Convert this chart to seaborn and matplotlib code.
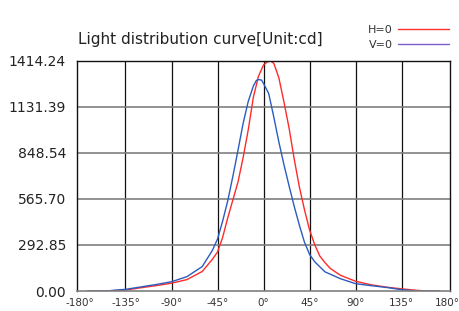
"""
Light distribution curve (H=0 / V=0 planes), intensity in cd.
"""

import pandas as pd
import matplotlib
matplotlib.use("Agg")
import matplotlib.pyplot as plt
import seaborn as sns

# ---------------------------------------------------------------------------
# DATA
# ---------------------------------------------------------------------------
ANGLES_H = [-172, -160, -150, -135, -120, -105, -90, -75, -60, -50, -45, -40,
            -35, -30, -25, -20, -15, -10, -5, 0, 4, 7, 10, 15, 20, 25, 30,
            35, 40, 45, 50, 55, 60, 65, 75, 90, 105, 120, 135, 150, 160, 172]
CD_H = [0, 0, 2, 6, 20, 33, 48, 70, 120, 195, 240, 330,
        450, 560, 670, 820, 990, 1190, 1320, 1390, 1410, 1414, 1400, 1310, 1160, 1000, 810,
        640, 500, 375, 285, 215, 175, 140, 97, 60, 38, 24, 13, 4, 0, 0]

ANGLES_V = [-172, -160, -150, -140, -135, -120, -105, -90, -75, -60, -50, -45,
            -40, -35, -30, -25, -20, -15, -10, -7, -5, -2, 0, 5, 10, 15, 20,
            25, 30, 35, 40, 45, 50, 60, 75, 90, 105, 120, 135, 150, 160, 172]
CD_V = [0, 0, 2, 8, 10, 25, 40, 57, 88, 150, 250, 320,
        430, 555, 705, 865, 1030, 1165, 1260, 1295, 1300, 1297, 1275, 1215, 1070, 915, 775,
        645, 520, 405, 300, 225, 180, 118, 76, 45, 33, 22, 8, 0, 0, 0]

SERIES = ["H=0", "V=0"]
COLORS = ["#ff2a2a", "#2a5cbf"]
LEGEND_COLORS = ["#ff3030", "#7a5ccc"]

Y_MAX = 1414.24
Y_TICKS = [Y_MAX * k / 5 for k in range(6)]
Y_LABELS = ["0.00", "292.85", "565.70", "848.54", "1131.39", "1414.24"]
X_TICKS = [-180, -135, -90, -45, 0, 45, 90, 135, 180]
X_LABELS = ["-180°", "-135°", "-90°", "-45°", "0°", "45°", "90°", "135°", "180°"]


def main():
    sns.set_theme(style="white")
    plt.rcParams["font.family"] = ["DejaVu Sans"]

    df = pd.concat([
        pd.DataFrame({"angle": ANGLES_H, "cd": CD_H, "plane": SERIES[0]}),
        pd.DataFrame({"angle": ANGLES_V, "cd": CD_V, "plane": SERIES[1]}),
    ])

    fig = plt.figure(figsize=(4.6, 3.11), dpi=100)
    ax = fig.add_axes([0.1674, 0.0643, 0.8102, 0.7396])

    # grid: vertical lines black, horizontal ones grey
    for x in X_TICKS[1:-1]:
        ax.axvline(x, color="#111111", lw=0.9, zorder=0)
    for y in Y_TICKS[1:-1]:
        ax.axhline(y, color="#7f7f7f", lw=1.2, zorder=0)

    sns.lineplot(data=df, x="angle", y="cd", hue="plane", palette=COLORS,
                 sort=False, lw=1.0, legend=False, ax=ax)

    ax.set_xlim(-182.4, 182)
    ax.set_ylim(0, Y_MAX)
    ax.set_xticks(X_TICKS)
    ax.set_xticklabels(X_LABELS, fontsize=7.5, color="#333333")
    ax.set_yticks(Y_TICKS)
    ax.set_yticklabels(Y_LABELS, fontsize=10, color="#222222")
    ax.tick_params(axis="both", length=0)
    ax.tick_params(axis="x", pad=5)
    ax.tick_params(axis="y", pad=8)
    ax.set_xlabel("")
    ax.set_ylabel("")

    for side in ["left", "top", "right"]:
        ax.spines[side].set_color("#111111")
        ax.spines[side].set_linewidth(1.0)
    ax.spines["bottom"].set_color("#7f7f7f")
    ax.spines["bottom"].set_linewidth(1.2)

    fig.text(0.1696, 0.872, "Light distribution curve[Unit:cd]", fontsize=11,
             color="#222222", ha="left", va="center")

    handles = [plt.Line2D([], [], color=c, lw=1.0) for c in LEGEND_COLORS]
    fig.legend(handles, SERIES, loc="upper right", bbox_to_anchor=(0.985, 0.935),
               frameon=False, markerfirst=False, fontsize=8, handlelength=4.6,
               handletextpad=0.4, labelspacing=0.45, borderaxespad=0,
               labelcolor="#333333")

    fig.savefig("out.png", dpi=100)
    plt.close(fig)


if __name__ == "__main__":
    main()
